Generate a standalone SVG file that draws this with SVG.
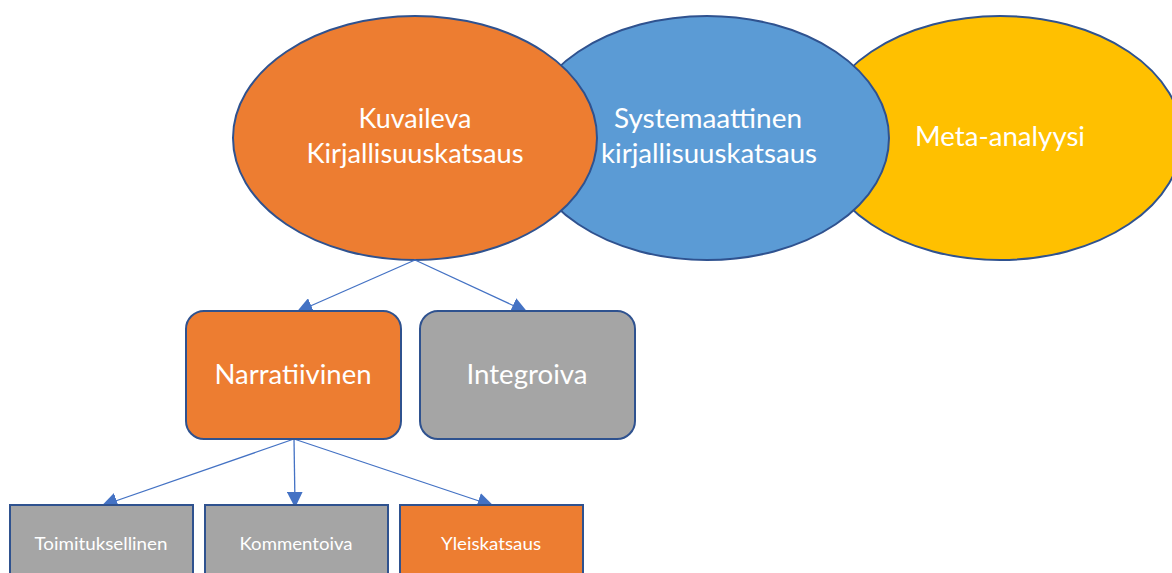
<svg xmlns="http://www.w3.org/2000/svg" width="1172" height="573" viewBox="0 0 1172 573">
  <style>
    .node { stroke: #2F528F; stroke-width: 2; }
    .orange { fill: #ED7D31; }
    .blue { fill: #5B9BD5; }
    .yellow { fill: #FFC000; }
    .gray { fill: #A5A5A5; }
    .lbl { font-family: Lato, "Open Sans", sans-serif; fill: #FFFFFF; text-anchor: middle; }
    .big { font-size: 26px; }
    .small { font-size: 18px; }
    .link { stroke: #4472C4; stroke-width: 1.3; fill: none; marker-end: url(#arrow); }
  </style>
  <defs>
    <marker id="arrow" markerUnits="userSpaceOnUse" markerWidth="16" markerHeight="16" viewBox="0 0 12 12" refX="10" refY="6" orient="auto">
      <path d="M0,0 L12,6 L0,12 Z" fill="#4472C4"/>
    </marker>
  </defs>
  <rect width="1172" height="573" fill="#FFFFFF"/>

  <!-- overlapping review-type ellipses, drawn back to front -->
  <g id="meta-analyysi">
    <ellipse class="node yellow" cx="1000" cy="138" rx="182" ry="122"/>
    <text class="lbl big" x="1000" y="146" textLength="170" lengthAdjust="spacingAndGlyphs">Meta-analyysi</text>
  </g>
  <g id="systemaattinen">
    <ellipse class="node blue" cx="707" cy="138" rx="182" ry="122"/>
    <text class="lbl big" x="708" y="128" textLength="188" lengthAdjust="spacingAndGlyphs">Systemaattinen</text>
    <text class="lbl big" x="709" y="163" textLength="216" lengthAdjust="spacingAndGlyphs">kirjallisuuskatsaus</text>
  </g>
  <g id="kuvaileva">
    <ellipse class="node orange" cx="415" cy="138" rx="182" ry="122"/>
    <text class="lbl big" x="415" y="128" textLength="113" lengthAdjust="spacingAndGlyphs">Kuvaileva</text>
    <text class="lbl big" x="415" y="163" textLength="217" lengthAdjust="spacingAndGlyphs">Kirjallisuuskatsaus</text>
  </g>

  <!-- connectors -->
  <g id="connectors">
    <line class="link" x1="415" y1="260" x2="299" y2="311"/>
    <line class="link" x1="415" y1="260" x2="525" y2="311"/>
    <line class="link" x1="294" y1="439" x2="104" y2="505"/>
    <line class="link" x1="294" y1="439" x2="295" y2="505"/>
    <line class="link" x1="294" y1="439" x2="491" y2="505"/>
  </g>

  <!-- second level -->
  <g id="narratiivinen">
    <rect class="node orange" x="186" y="311" width="215" height="128" rx="18" ry="18"/>
    <text class="lbl big" x="293" y="384" textLength="157" lengthAdjust="spacingAndGlyphs">Narratiivinen</text>
  </g>
  <g id="integroiva">
    <rect class="node gray" x="420" y="311" width="215" height="128" rx="18" ry="18"/>
    <text class="lbl big" x="527" y="384" textLength="121" lengthAdjust="spacingAndGlyphs">Integroiva</text>
  </g>

  <!-- third level -->
  <g id="toimituksellinen">
    <rect class="node gray" x="10" y="505" width="183" height="80"/>
    <text class="lbl small" x="101" y="550" textLength="133" lengthAdjust="spacingAndGlyphs">Toimituksellinen</text>
  </g>
  <g id="kommentoiva">
    <rect class="node gray" x="205" y="505" width="183" height="80"/>
    <text class="lbl small" x="296" y="550" textLength="113" lengthAdjust="spacingAndGlyphs">Kommentoiva</text>
  </g>
  <g id="yleiskatsaus">
    <rect class="node orange" x="400" y="505" width="183" height="80"/>
    <text class="lbl small" x="491" y="550" textLength="100" lengthAdjust="spacingAndGlyphs">Yleiskatsaus</text>
  </g>
</svg>
